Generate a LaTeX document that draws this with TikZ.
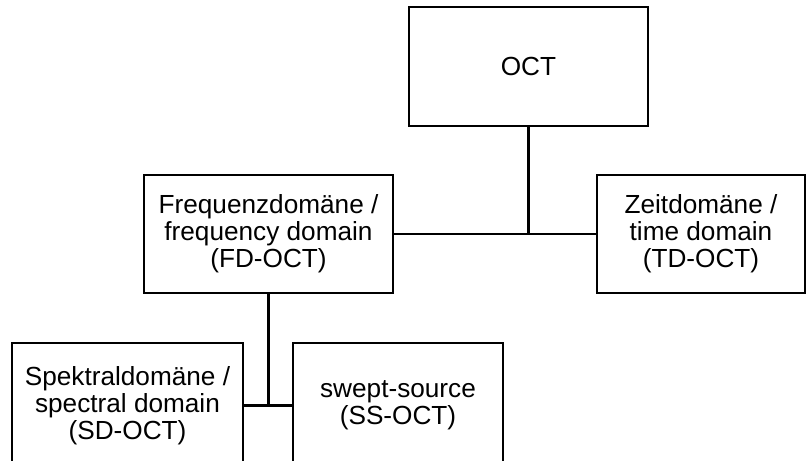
\documentclass[tikz,border=0pt]{standalone}
\usepackage{fontspec}
\setmainfont{Liberation Sans}
\begin{document}
\begin{tikzpicture}[box/.style={draw,line width=1.4pt,align=center,font=\fontsize{14.9}{15.3}\selectfont},
	link/.style={line width=1.4pt}]
		\useasboundingbox (0,0) rectangle (16.12,9.22);
		\clip (0,0) rectangle (16.12,9.22);
	
		\node[box,minimum width=4.78cm,minimum height=2.38cm] (oct) at (10.57,7.89) {OCT};
		
		\node[box,minimum width=4.98cm,minimum height=2.36cm] (fd) at (5.37,4.54) {Frequenzdomäne /\\frequency domain\\(FD-OCT)};
		\node[box,minimum width=4.16cm,minimum height=2.36cm] (td) at (14.02,4.54) {Zeitdomäne /\\time domain\\(TD-OCT)};
		
		\node[box,minimum width=4.62cm,minimum height=2.5cm] (sd) at (2.55,1.11) {Spektraldomäne /\\spectral domain\\(SD-OCT)};
		\node[box,minimum width=4.2cm,minimum height=2.5cm] (ss) at (7.96,1.11) {swept-source\\(SS-OCT)};
		
		\coordinate (j1) at (oct.south |- fd.east);
		\coordinate (j2) at (fd.south |- sd.east);
		
		\draw[link] (fd.east) -- (td.west);
		\draw[link] (oct.south) -- (j1);
		
		\draw[link] (sd.east) -- (ss.west);
		\draw[link] (fd.south) -- (j2);
	\end{tikzpicture}
\end{document}
